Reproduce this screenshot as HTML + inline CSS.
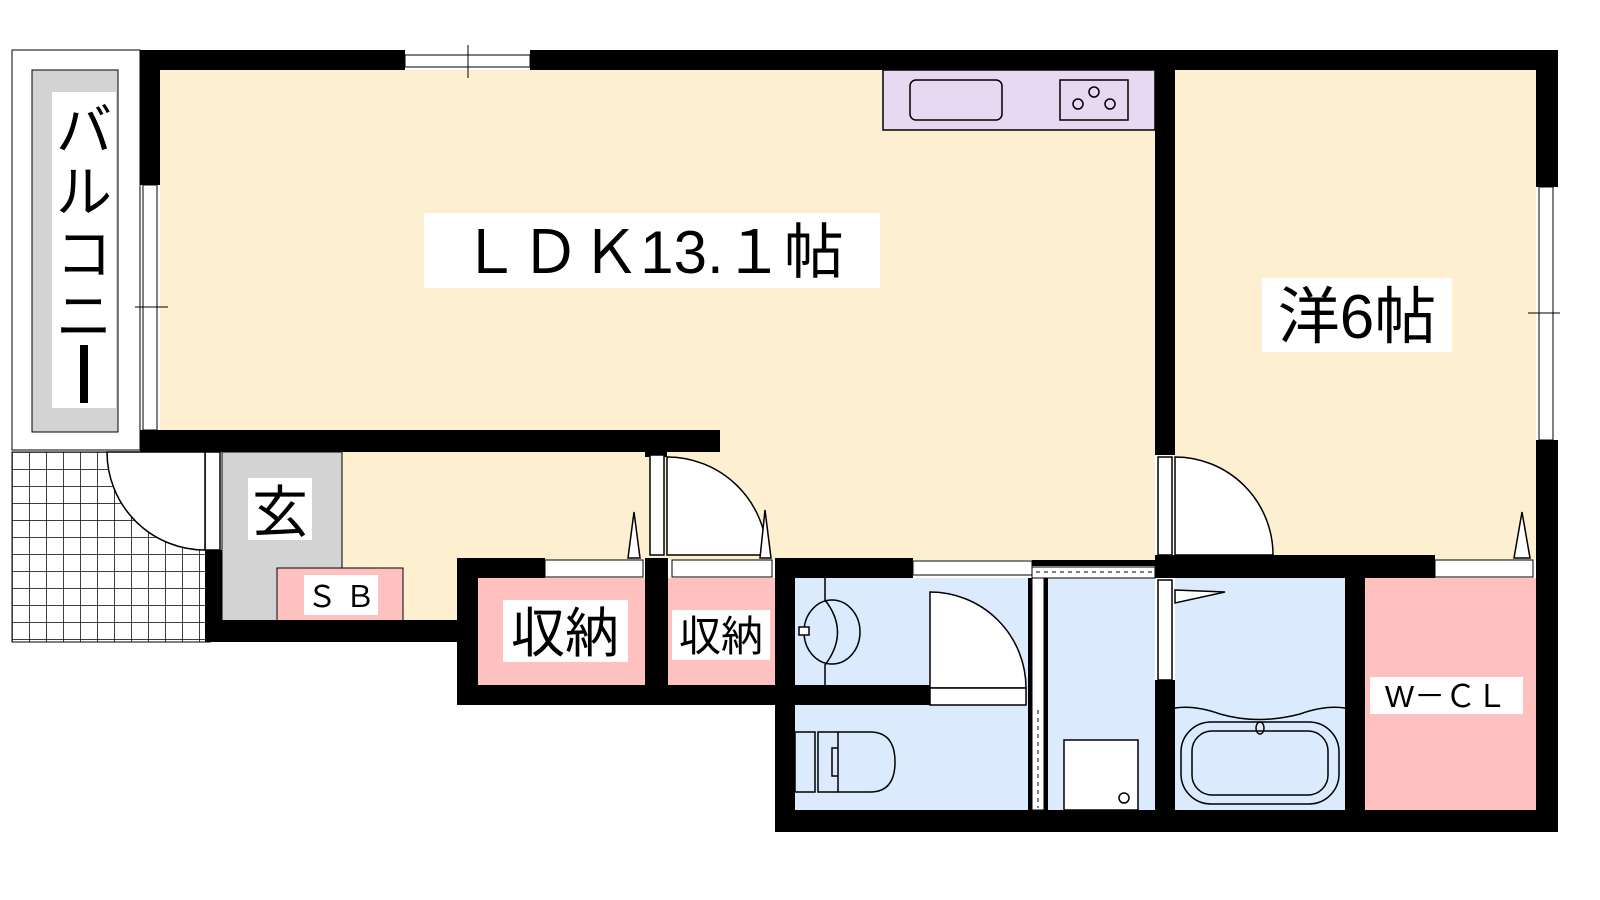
<!DOCTYPE html>
<html><head><meta charset="utf-8"><style>
html,body{margin:0;padding:0;background:#fff;overflow:hidden;width:1600px;height:900px;}
svg{display:block;}
svg text{font-family:"Liberation Sans","Noto Sans CJK JP",sans-serif;}
</style></head><body>
<svg width="1600" height="900" viewBox="0 0 1600 900" xmlns="http://www.w3.org/2000/svg">
<defs>
<pattern id="tile" x="12" y="452" width="17" height="17" patternUnits="userSpaceOnUse">
<rect width="17" height="17" fill="#fff"/><path d="M0 0H17M0 0V17" stroke="#000" stroke-width="1.5"/>
</pattern>
</defs>
<!-- balcony -->
<rect x="12" y="50" width="128" height="400" fill="#fff" stroke="#000" stroke-width="1"/>
<rect x="32" y="70" width="86" height="362" fill="#d3d3d3" stroke="#000" stroke-width="1"/>
<rect x="52" y="92" width="64" height="316" fill="#fff"/>
<text x="84" y="150" font-size="56" text-anchor="middle">バ</text>
<text x="84" y="212" font-size="56" text-anchor="middle">ル</text>
<text x="84" y="274" font-size="56" text-anchor="middle">コ</text>
<text x="84" y="336" font-size="56" text-anchor="middle">ニ</text>
<rect x="80" y="345" width="8" height="58" fill="#000"/>
<!-- tiles -->
<rect x="12" y="452" width="198" height="190" fill="url(#tile)" stroke="#000"/>
<!-- cream rooms -->
<rect x="160" y="70" width="995" height="380" fill="#fdf0d0"/>
<rect x="340" y="432" width="815" height="128" fill="#fdf0d0"/>
<rect x="340" y="450" width="120" height="172" fill="#fdf0d0"/>
<rect x="1175" y="70" width="361" height="490" fill="#fdf0d0"/>
<!-- genkan -->
<rect x="222" y="452" width="120" height="170" fill="#d3d3d3" stroke="#000" stroke-width="1"/>
<rect x="277" y="568" width="126" height="54" fill="#ffc0c0" stroke="#000" stroke-width="1"/>
<rect x="304" y="575" width="74" height="40" fill="#fff"/>
<text x="341" y="607" font-size="30" text-anchor="middle">Ｓ Ｂ</text>
<rect x="248" y="478" width="64" height="62" fill="#fff"/>
<text x="280" y="532" font-size="56" text-anchor="middle">玄</text>
<!-- kitchen -->
<rect x="883" y="70" width="272" height="60" fill="#e8d8f2" stroke="#000" stroke-width="1.5"/>
<rect x="910" y="80" width="92" height="40" rx="6" fill="none" stroke="#000" stroke-width="1.5"/>
<rect x="1060" y="80" width="68" height="40" fill="none" stroke="#000" stroke-width="1.5"/>
<circle cx="1078" cy="104" r="5" fill="none" stroke="#000" stroke-width="1.5"/>
<circle cx="1094" cy="92" r="5" fill="none" stroke="#000" stroke-width="1.5"/>
<circle cx="1110" cy="104" r="5" fill="none" stroke="#000" stroke-width="1.5"/>
<!-- storage/wet -->
<rect x="478" y="578" width="167" height="107" fill="#ffc0c0"/>
<rect x="668" y="578" width="107" height="107" fill="#ffc0c0"/>
<rect x="795" y="578" width="233" height="232" fill="#dbeafc"/>
<rect x="1048" y="578" width="107" height="232" fill="#dbeafc"/>
<rect x="1175" y="578" width="170" height="232" fill="#dbeafc"/>
<rect x="1365" y="578" width="171" height="232" fill="#ffc0c0"/>
<!-- walls -->
<g fill="#000">
<rect x="140" y="50" width="265" height="20"/>
<rect x="530" y="50" width="1028" height="20"/>
<rect x="140" y="50" width="20" height="135"/>
<rect x="140" y="430" width="580" height="22"/>
<rect x="1536" y="50" width="22" height="137"/>
<rect x="1536" y="440" width="22" height="392"/>
<rect x="1155" y="50" width="20" height="405"/>
<rect x="205" y="550" width="17" height="92"/>
<rect x="205" y="620" width="255" height="22"/>
<rect x="645" y="452" width="22" height="5"/>
<rect x="457" y="558" width="88" height="20"/>
<rect x="457" y="558" width="21" height="147"/>
<rect x="457" y="685" width="338" height="20"/>
<rect x="645" y="558" width="23" height="127"/>
<rect x="775" y="558" width="20" height="274"/>
<rect x="775" y="558" width="138" height="20"/>
<rect x="1155" y="555" width="280" height="23"/>
<rect x="775" y="810" width="783" height="22"/>
<rect x="795" y="685" width="135" height="20"/>
<rect x="1155" y="680" width="20" height="130"/>
<rect x="1345" y="578" width="20" height="232"/>
<rect x="1028" y="578" width="20" height="232"/>
<rect x="1032" y="560" width="123" height="6"/>
</g>
<!-- windows -->
<rect x="405" y="55" width="125" height="12" fill="#fff" stroke="#000"/>
<line x1="468" y1="45" x2="468" y2="78" stroke="#000"/>
<rect x="143" y="185" width="14" height="245" fill="#fff" stroke="#000"/>
<line x1="135" y1="307" x2="168" y2="307" stroke="#000"/>
<rect x="1539" y="187" width="14" height="253" fill="#fff" stroke="#000"/>
<line x1="1528" y1="313" x2="1560" y2="313" stroke="#000"/>
<rect x="913" y="561" width="119" height="14" fill="#fff" stroke="#000"/>
<rect x="1032" y="567" width="123" height="11" fill="#fff" stroke="#000"/>
<line x1="1036" y1="572" x2="1152" y2="572" stroke="#000" stroke-dasharray="4 4"/>
<rect x="1435" y="560" width="98" height="17" fill="#fff" stroke="#000"/>
<rect x="545" y="560" width="98" height="17" fill="#fff" stroke="#000"/>
<rect x="672" y="560" width="100" height="17" fill="#fff" stroke="#000"/>
<rect x="1032" y="578" width="12" height="232" fill="#fff" stroke="#000"/>
<line x1="1038" y1="710" x2="1038" y2="808" stroke="#000" stroke-dasharray="4 4"/>
<!-- doors -->
<g fill="#fff" stroke="#000" stroke-width="1.5">
<rect x="205" y="452" width="15" height="98"/>
<path d="M205 550 A 98 98 0 0 1 107 452 L205 452Z"/>
<rect x="650" y="455" width="14" height="100"/>
<path d="M667 457 A 100 100 0 0 1 767 555 L667 555Z"/>
<rect x="1158" y="457" width="14" height="98"/>
<path d="M1175 457 A 98 98 0 0 1 1273 555 L1175 555Z"/>
<rect x="1158" y="580" width="14" height="100"/>
<path d="M1175 590 L1225 592 L1175 603Z"/>
<path d="M930 592 A 96 96 0 0 1 1026 688 L930 688Z"/>
<rect x="930" y="688" width="96" height="17"/>
<path d="M628 558 L634 512 L640 558Z"/>
<path d="M760 558 L765 510 L771 558Z"/>
<path d="M1514 558 L1522 512 L1530 558Z"/>
</g>
<!-- fixtures -->
<g fill="none" stroke="#000" stroke-width="1.5">
<path d="M825 578 V600 Q850 632 825 665 V685"/>
<ellipse cx="832" cy="632" rx="28" ry="32"/>
<rect x="799" y="627" width="10" height="8" fill="#fff"/>
<rect x="795" y="732" width="20" height="60"/>
<rect x="818" y="732" width="20" height="60"/>
<path d="M838 748 H832 V776 H838"/>
<path d="M838 732 H870 Q895 732 895 762 Q895 792 870 792 H838"/>
<rect x="1064" y="740" width="74" height="70" fill="#fff"/>
<circle cx="1124" cy="798" r="5"/>
<path d="M1175 708 Q1195 705 1220 714 Q1258 725 1300 714 Q1325 705 1345 708"/>
<rect x="1181" y="722" width="158" height="82" rx="30"/>
<rect x="1192" y="731" width="136" height="64" rx="20"/>
<ellipse cx="1260" cy="728" rx="4" ry="6"/>
</g>
<!-- labels -->
<rect x="424" y="213" width="456" height="75" fill="#fff"/>
<text x="652" y="273" font-size="60" text-anchor="middle">ＬＤＫ13.１帖</text>
<rect x="1262" y="278" width="190" height="74" fill="#fff"/>
<text x="1357" y="338" font-size="62" text-anchor="middle">洋6帖</text>
<rect x="503" y="600" width="125" height="62" fill="#fff"/>
<text x="565" y="652" font-size="54" text-anchor="middle">収納</text>
<rect x="672" y="610" width="98" height="50" fill="#fff"/>
<text x="721" y="651" font-size="42" text-anchor="middle">収納</text>
<rect x="1370" y="677" width="153" height="37" fill="#fff"/>
<text x="1446" y="707" font-size="31" text-anchor="middle">W－ＣＬ</text>
</svg>
</body></html>
